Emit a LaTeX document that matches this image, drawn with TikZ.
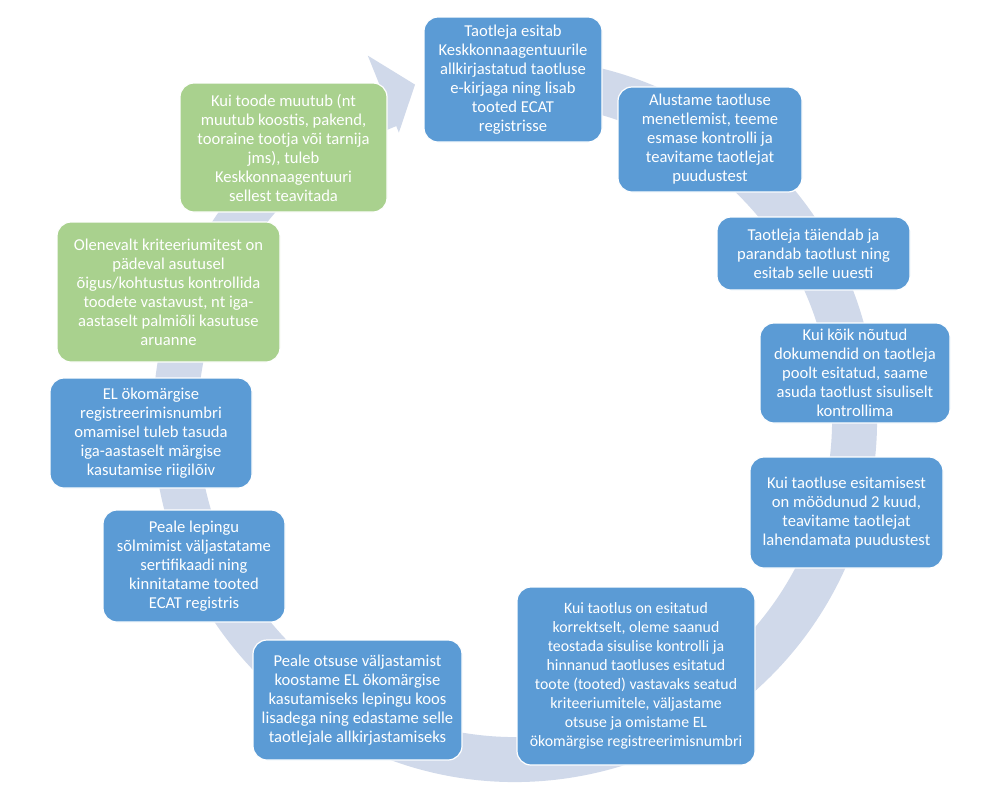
\documentclass[tikz,border=0pt]{standalone}
\usepackage{fontspec}
\setmainfont{Carlito}
\usepackage{tikz}

\definecolor{ringgray}{HTML}{D0D9EA}
\definecolor{stepblue}{HTML}{5B9BD5}
\definecolor{stepgreen}{HTML}{A9D18E}

\tikzset{
  bluebox/.style={draw=white, line width=1.2pt, fill=stepblue, text=white,
    rounded corners=14pt, align=center, inner sep=0pt,
    font=\fontsize{16.6}{19}\selectfont},
  greenbox/.style={bluebox, fill=stepgreen}
}

\begin{document}
\begin{tikzpicture}[x=1pt,y=-1pt]
\fill[white] (0,0) rectangle (1002,804);
\useasboundingbox (0,0) rectangle (1002,804);

% ring with arrow head
\begin{scope}[shift={(515,420)}]
\fill[ringgray] (-100:362) arc[start angle=-100, end angle=248, radius=362]
  -- (248:393) -- (253.4:350) -- (248:310) -- (248:317)
  arc[start angle=248, end angle=-100, radius=317] -- cycle;
\end{scope}

\node[bluebox, minimum width=178pt, minimum height=125pt] (taotlus) at (513,79.5)
  {Taotleja esitab\\Keskkonnaagentuurile\\allkirjastatud taotluse\\e-kirjaga ning lisab\\tooted ECAT\\registrisse};
\node[bluebox, minimum width=184pt, minimum height=105pt] (menetlus) at (710,139.5)
  {Alustame taotluse\\menetlemist, teeme\\esmase kontrolli ja\\teavitame taotlejat\\puudustest};
\node[bluebox, minimum width=193pt, minimum height=73pt] (taiendus) at (813.5,253.5)
  {Taotleja täiendab ja\\parandab taotlust ning\\esitab selle uuesti};
\node[bluebox, minimum width=190pt, minimum height=100pt] (kontroll) at (855,373)
  {Kui kõik nõutud\\dokumendid on taotleja\\poolt esitatud, saame\\asuda taotlust sisuliselt\\kontrollima};
\node[bluebox, minimum width=193pt, minimum height=111pt] (puudused) at (846.5,512.5)
  {Kui taotluse esitamisest\\on möödunud 2 kuud,\\teavitame taotlejat\\lahendamata puudustest};
\node[bluebox, minimum width=238pt, minimum height=178pt,
  font=\fontsize{15.8}{19}\selectfont] (otsus) at (636,676)
  {Kui taotlus on esitatud\\korrektselt, oleme saanud\\teostada sisulise kontrolli ja\\hinnanud taotluses esitatud\\toote (tooted) vastavaks seatud\\kriteeriumitele, väljastame\\otsuse ja omistame EL\\ökomärgise registreerimisnumbri};
\node[bluebox, minimum width=209pt, minimum height=120pt] (leping) at (357.5,700)
  {Peale otsuse väljastamist\\koostame EL ökomärgise\\kasutamiseks lepingu koos\\lisadega ning edastame selle\\taotlejale allkirjastamiseks};
\node[bluebox, minimum width=182pt, minimum height=112pt] (sertifikaat) at (194,566)
  {Peale lepingu\\sõlmimist väljastatame\\sertifikaadi ning\\kinnitatame tooted\\ECAT registris};
\node[bluebox, minimum width=202pt, minimum height=110pt] (riigiloiv) at (151,433)
  {EL ökomärgise\\registreerimisnumbri\\omamisel tuleb tasuda\\iga-aastaselt märgise\\kasutamise riigilõiv};
\node[greenbox, minimum width=223pt, minimum height=140pt] (jarelevalve) at (168.5,292)
  {Olenevalt kriteeriumitest on\\pädeval asutusel\\õigus/kohtustus kontrollida\\toodete vastavust, nt iga-\\aastaselt palmiõli kasutuse\\aruanne};
\node[greenbox, minimum width=207pt, minimum height=129pt] (muudatus) at (283.5,147.5)
  {Kui toode muutub (nt\\muutub koostis, pakend,\\tooraine tootja või tarnija\\jms), tuleb\\Keskkonnaagentuuri\\sellest teavitada};

\end{tikzpicture}
\end{document}
